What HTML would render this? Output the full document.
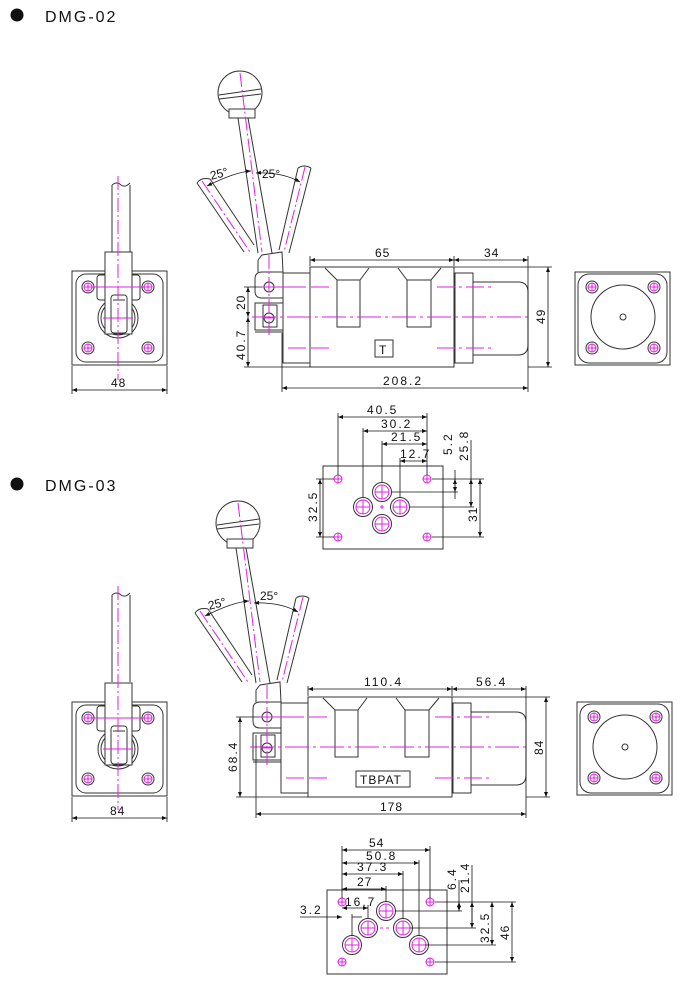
<!DOCTYPE html>
<html><head><meta charset="utf-8"><style>
html,body{margin:0;padding:0;background:#fff;}
svg{display:block;}
text{font-family:"Liberation Sans",sans-serif;fill:#111;}
</style></head><body>
<svg width="700" height="984" viewBox="0 0 700 984" xmlns="http://www.w3.org/2000/svg">
<defs>
<marker id="a" viewBox="0 0 10 10" refX="10" refY="5" markerWidth="7" markerHeight="5" orient="auto-start-reverse" markerUnits="userSpaceOnUse"><path d="M0,1 L10,5 L0,9 z" fill="#111"/></marker>
<g id="side" fill="none" stroke="#333" stroke-width="1">
  <!-- knob -->
  <circle cx="240" cy="93" r="22" fill="#fff"/>
  <line x1="219" y1="95" x2="261" y2="89"/><line x1="219" y1="99" x2="261" y2="94"/>
  <rect x="229" y="109" width="26" height="9" fill="#fff"/>
  <!-- shaft -->
  <line x1="238" y1="118" x2="258" y2="253"/><line x1="248" y1="118" x2="272" y2="253"/>
  <!-- left tilted -->
  <line x1="197" y1="183" x2="244" y2="252"/><line x1="210" y1="179" x2="254" y2="245"/>
  <path d="M197,183 q4,-6 13,-4"/>
  <!-- right tilted -->
  <line x1="298" y1="168" x2="279" y2="250"/><line x1="311" y1="168" x2="289" y2="253"/>
  <path d="M298,168 q6,-4 13,0"/>
  <!-- lever block -->
  <path d="M258,260 L262,255 L282,252 L283,272" fill="#fff"/>
  <line x1="258" y1="260" x2="258" y2="272"/>
  <path d="M262,272 L283,272 L283,298 L262,298 Q255,298 255,291 L255,279 Q255,272 262,272 z" fill="#fff"/>
  <rect x="255" y="303" width="28" height="27" fill="#fff"/>
  <line x1="255" y1="332" x2="283" y2="332"/>
  <rect x="263" y="305" width="14" height="22"/>
  <circle cx="269" cy="287" r="5"/><circle cx="269" cy="318" r="5"/>
  <!-- plates / body -->
  <rect x="283" y="273" width="27" height="90"/>
  <rect x="310" y="267" width="144" height="100"/>
  <path d="M325,268 L337,280 L360,280 L369,268"/>
  <rect x="337" y="280" width="23" height="47"/>
  <path d="M398,268 L407,280 L431,280 L441,268"/>
  <rect x="407" y="280" width="24" height="47"/>
  <rect x="455" y="273" width="18" height="90"/>
  <path d="M473,282 L518,282 Q528,282 528,292 L528,345 Q528,355 518,355 L473,355"/>
</g>
<g id="sidecl" fill="none" stroke="#e020e0" stroke-width="1">
  <line x1="240" y1="73" x2="262" y2="252" stroke-dasharray="14,3,2,3"/>
  <line x1="202" y1="181" x2="250" y2="252" stroke-dasharray="14,3,2,3"/>
  <line x1="305" y1="167" x2="284" y2="252" stroke-dasharray="14,3,2,3"/>
  <line x1="269" y1="255" x2="269" y2="335" stroke-dasharray="14,3,2,3"/>
  <line x1="262" y1="287" x2="290" y2="287"/>
  <line x1="288" y1="287" x2="330" y2="287" stroke-dasharray="18,5"/>
  <line x1="437" y1="287" x2="495" y2="287" stroke-dasharray="18,4,3,4"/>
  <line x1="252" y1="317" x2="532" y2="317" stroke-dasharray="24,4,3,4"/>
  <line x1="288" y1="348" x2="330" y2="348" stroke-dasharray="18,5"/>
  <line x1="437" y1="348" x2="495" y2="348" stroke-dasharray="18,4,3,4"/>
  <line x1="263" y1="287" x2="275" y2="287"/><line x1="263" y1="318" x2="275" y2="318"/>
</g>
<g id="arc" fill="none" stroke="#111" stroke-width="0.8">
  <path d="M207,186 Q235,172 251,171" marker-start="url(#a)" marker-end="url(#a)"/>
  <path d="M256,173 Q282,172 300,182" marker-start="url(#a)" marker-end="url(#a)"/>
</g>
<g id="bolt"><circle r="6" fill="#fff" stroke="#333"/><circle r="4" fill="none" stroke="#e020e0"/><path d="M-4,0H4M0,-4V4" stroke="#e020e0"/></g>
<g id="hole"><circle r="4" fill="none" stroke="#e020e0"/><path d="M-4,0H4M0,-4V4" stroke="#e020e0"/></g>
<g id="port"><circle r="9.5" fill="none" stroke="#333"/><circle r="7" fill="none" stroke="#e020e0"/><path d="M-7,0H7M0,-7V7" stroke="#e020e0"/></g>
<g id="rview">
  <rect x="575" y="272" width="95" height="93" fill="none" stroke="#333"/>
  <rect x="578" y="274" width="89" height="89" rx="11" fill="none" stroke="#333"/>
  <use href="#bolt" x="592" y="287"/><use href="#bolt" x="654" y="287"/>
  <use href="#bolt" x="592" y="348"/><use href="#bolt" x="654" y="348"/>
  <circle cx="623" cy="317" r="32" fill="none" stroke="#333"/>
  <circle cx="623" cy="317" r="3" fill="none" stroke="#333"/>
</g>
<g id="fplate">
  <rect x="72" y="271" width="95" height="94" fill="none" stroke="#333"/>
  <rect x="76" y="274" width="87" height="88" rx="10" fill="none" stroke="#333"/>
  <use href="#bolt" x="88" y="287"/><use href="#bolt" x="148" y="287"/>
  <use href="#bolt" x="88" y="348"/><use href="#bolt" x="148" y="348"/>
  <circle cx="118" cy="318" r="20" fill="none" stroke="#333"/>
  <circle cx="118" cy="318" r="17" fill="none" stroke="#333"/>
  <rect x="97" y="275" width="43" height="25" rx="3" fill="#fff" stroke="#333"/>
  <rect x="105" y="252" width="27" height="82" fill="#fff" stroke="#333"/>
  <rect x="111" y="295" width="16" height="38" rx="3" fill="#fff" stroke="#333"/>
  <line x1="113" y1="300" x2="125" y2="300" stroke="#333"/>
  <line x1="88" y1="287" x2="148" y2="287" stroke="#e020e0"/>
  <line x1="103" y1="318" x2="133" y2="318" stroke="#e020e0"/>
</g>
</defs>

<!-- headers -->
<circle cx="17" cy="15" r="6.5" fill="#111"/>
<text x="45" y="22" font-size="16" letter-spacing="2">DMG-02</text>
<circle cx="17" cy="484" r="6.5" fill="#111"/>
<text x="45" y="491" font-size="16" letter-spacing="2">DMG-03</text>

<!-- ===== DMG-02 ===== -->
<use href="#fplate"/>
<path d="M112,185 L112,252 M130,185 L130,252 M112,185 q5,-4 9,0 q4,3 9,-2" fill="none" stroke="#333"/>
<line x1="118" y1="176" x2="118" y2="380" stroke="#e020e0" stroke-dasharray="14,3,2,3"/>
<g stroke="#111" stroke-width="0.8" fill="none">
<line x1="72" y1="366" x2="72" y2="394"/><line x1="167" y1="366" x2="167" y2="394"/>
<line x1="72" y1="390" x2="167" y2="390" marker-start="url(#a)" marker-end="url(#a)"/>
</g>
<text x="111" y="387" font-size="12" letter-spacing="1">48</text>

<use href="#side"/><use href="#sidecl"/><use href="#arc"/>
<text x="210" y="178" font-size="12" transform="rotate(-14 218 174)">25°</text>
<text x="262" y="178" font-size="12">25°</text>
<rect x="375" y="340" width="18" height="17" fill="none" stroke="#333"/>
<text x="379" y="354" font-size="12">T</text>
<g stroke="#111" stroke-width="0.8" fill="none">
<line x1="310" y1="266" x2="310" y2="256"/><line x1="454" y1="266" x2="454" y2="256"/>
<line x1="528" y1="256" x2="528" y2="392"/>
<line x1="310" y1="260" x2="454" y2="260" marker-start="url(#a)" marker-end="url(#a)"/>
<line x1="454" y1="260" x2="528" y2="260" marker-start="url(#a)" marker-end="url(#a)"/>
<line x1="454" y1="267" x2="552" y2="267"/><line x1="528" y1="367" x2="552" y2="367"/>
<line x1="548" y1="267" x2="548" y2="367" marker-start="url(#a)" marker-end="url(#a)"/>
<line x1="244" y1="287" x2="262" y2="287"/>
<line x1="248" y1="287" x2="248" y2="317" marker-start="url(#a)" marker-end="url(#a)"/>
<line x1="248" y1="317" x2="248" y2="367" marker-start="url(#a)" marker-end="url(#a)"/>
<line x1="244" y1="367" x2="310" y2="367"/>
<line x1="282" y1="333" x2="282" y2="392"/>
<line x1="282" y1="388" x2="528" y2="388" marker-start="url(#a)" marker-end="url(#a)"/>
</g>
<text x="375" y="257" font-size="12" letter-spacing="1">65</text>
<text x="484" y="257" font-size="12" letter-spacing="1">34</text>
<text x="0" y="0" font-size="12" letter-spacing="1" transform="translate(545 324) rotate(-90)">49</text>
<text x="0" y="0" font-size="12" letter-spacing="1" transform="translate(245 310) rotate(-90)">20</text>
<text x="0" y="0" font-size="12" letter-spacing="2" transform="translate(245 360) rotate(-90)">40.7</text>
<text x="383" y="385" font-size="12" letter-spacing="2">208.2</text>

<use href="#rview"/>

<!-- port plate 1 -->
<rect x="323" y="466" width="120" height="83" fill="none" stroke="#333"/>
<use href="#hole" x="338" y="479"/><use href="#hole" x="427" y="479"/>
<use href="#hole" x="338" y="537"/><use href="#hole" x="427" y="537"/>
<use href="#port" x="382" y="492"/><use href="#port" x="363" y="507"/>
<use href="#port" x="400" y="507"/><use href="#port" x="382" y="524"/>
<path d="M380,507h4M382,505v4" stroke="#e020e0"/>
<g stroke="#111" stroke-width="0.8" fill="none">
<line x1="338" y1="413" x2="338" y2="475"/><line x1="427" y1="413" x2="427" y2="475"/>
<line x1="363" y1="428" x2="363" y2="497"/><line x1="382" y1="441" x2="382" y2="482"/>
<line x1="400" y1="458" x2="400" y2="497"/>
<line x1="338" y1="417" x2="427" y2="417" marker-start="url(#a)" marker-end="url(#a)"/>
<line x1="363" y1="431" x2="427" y2="431" marker-start="url(#a)" marker-end="url(#a)"/>
<line x1="382" y1="444" x2="427" y2="444" marker-start="url(#a)" marker-end="url(#a)"/>
<line x1="400" y1="461" x2="427" y2="461" marker-start="url(#a)" marker-end="url(#a)"/>
<line x1="432" y1="479" x2="484" y2="479"/><line x1="392" y1="492" x2="458" y2="492"/>
<line x1="410" y1="507" x2="474" y2="507"/><line x1="432" y1="537" x2="484" y2="537"/>
<line x1="455" y1="470" x2="455" y2="499"/>
<line x1="455" y1="479" x2="455" y2="492" marker-start="url(#a)" marker-end="url(#a)"/>
<line x1="471" y1="440" x2="471" y2="507" /><line x1="471" y1="479" x2="471" y2="507" marker-start="url(#a)" marker-end="url(#a)"/>
<line x1="480" y1="479" x2="480" y2="537" marker-start="url(#a)" marker-end="url(#a)"/>
<line x1="320" y1="479" x2="320" y2="537" marker-start="url(#a)" marker-end="url(#a)"/>
<line x1="316" y1="479" x2="334" y2="479"/><line x1="316" y1="537" x2="334" y2="537"/>
</g>
<text x="367" y="414" font-size="12" letter-spacing="2">40.5</text>
<text x="381" y="428" font-size="12" letter-spacing="2">30.2</text>
<text x="391" y="441" font-size="12" letter-spacing="2">21.5</text>
<text x="400" y="458" font-size="12" letter-spacing="2">12.7</text>
<text x="0" y="0" font-size="12" letter-spacing="2" transform="translate(452 455) rotate(-90)">5.2</text>
<text x="0" y="0" font-size="12" letter-spacing="2" transform="translate(468 461) rotate(-90)">25.8</text>
<text x="0" y="0" font-size="12" letter-spacing="1" transform="translate(477 522) rotate(-90)">31</text>
<text x="0" y="0" font-size="12" letter-spacing="2" transform="translate(317 522) rotate(-90)">32.5</text>

<!-- ===== DMG-03 ===== -->
<g transform="translate(0 431)"><use href="#fplate"/></g>
<path d="M112,595 L112,682 M130,595 L130,682 M112,595 q5,-4 9,0 q4,3 9,-2" fill="none" stroke="#333"/>
<line x1="118" y1="586" x2="118" y2="810" stroke="#e020e0" stroke-dasharray="14,3,2,3"/>
<g stroke="#111" stroke-width="0.8" fill="none">
<line x1="72" y1="797" x2="72" y2="822"/><line x1="167" y1="797" x2="167" y2="822"/>
<line x1="72" y1="818" x2="167" y2="818" marker-start="url(#a)" marker-end="url(#a)"/>
</g>
<text x="110" y="815" font-size="12" letter-spacing="1">84</text>

<g transform="translate(-2 430)"><use href="#side"/><use href="#sidecl"/><use href="#arc"/></g>
<text x="208" y="608" font-size="12" transform="rotate(-14 216 604)">25°</text>
<text x="260" y="600" font-size="12">25°</text>
<rect x="356" y="771" width="54" height="16" fill="none" stroke="#333"/>
<text x="360" y="784" font-size="12" letter-spacing="1">TBPAT</text>
<g stroke="#111" stroke-width="0.8" fill="none">
<line x1="308" y1="696" x2="308" y2="686"/><line x1="452" y1="696" x2="452" y2="686"/>
<line x1="526" y1="686" x2="526" y2="818"/>
<line x1="308" y1="689" x2="452" y2="689" marker-start="url(#a)" marker-end="url(#a)"/>
<line x1="452" y1="689" x2="526" y2="689" marker-start="url(#a)" marker-end="url(#a)"/>
<line x1="452" y1="697" x2="550" y2="697"/><line x1="526" y1="797" x2="550" y2="797"/>
<line x1="546" y1="697" x2="546" y2="797" marker-start="url(#a)" marker-end="url(#a)"/>
<line x1="236" y1="717" x2="260" y2="717"/>
<line x1="240" y1="717" x2="240" y2="797" marker-start="url(#a)" marker-end="url(#a)"/>
<line x1="236" y1="797" x2="308" y2="797"/>
<line x1="256" y1="735" x2="256" y2="818"/>
<line x1="256" y1="814" x2="526" y2="814" marker-start="url(#a)" marker-end="url(#a)"/>
</g>
<text x="364" y="686" font-size="12" letter-spacing="2">110.4</text>
<text x="476" y="686" font-size="12" letter-spacing="2">56.4</text>
<text x="0" y="0" font-size="12" letter-spacing="1" transform="translate(543 755) rotate(-90)">84</text>
<text x="0" y="0" font-size="12" letter-spacing="2" transform="translate(237 772) rotate(-90)">68.4</text>
<text x="380" y="811" font-size="12" letter-spacing="1">178</text>

<g transform="translate(2 430)"><use href="#rview"/></g>

<!-- port plate 2 -->
<rect x="327" y="890" width="120" height="84" fill="none" stroke="#333"/>
<use href="#hole" x="342" y="902"/><use href="#hole" x="430" y="902"/>
<use href="#hole" x="342" y="962"/><use href="#hole" x="430" y="962"/>
<use href="#port" x="386" y="911"/><use href="#port" x="368" y="928"/>
<use href="#port" x="403" y="928"/><use href="#port" x="352" y="945"/>
<use href="#port" x="419" y="945"/>
<line x1="380" y1="928" x2="392" y2="928" stroke="#e020e0" stroke-dasharray="3,3"/>
<g stroke="#111" stroke-width="0.8" fill="none">
<line x1="342" y1="846" x2="342" y2="898"/><line x1="430" y1="846" x2="430" y2="898"/>
<line x1="419" y1="860" x2="419" y2="936"/><line x1="403" y1="871" x2="403" y2="919"/>
<line x1="386" y1="886" x2="386" y2="902"/><line x1="368" y1="905" x2="368" y2="919"/>
<line x1="352" y1="914" x2="352" y2="936"/>
<line x1="342" y1="850" x2="430" y2="850" marker-start="url(#a)" marker-end="url(#a)"/>
<line x1="342" y1="863" x2="419" y2="863" marker-start="url(#a)" marker-end="url(#a)"/>
<line x1="342" y1="874" x2="403" y2="874" marker-start="url(#a)" marker-end="url(#a)"/>
<line x1="342" y1="889" x2="386" y2="889" marker-start="url(#a)" marker-end="url(#a)"/>
<line x1="342" y1="908" x2="368" y2="908" marker-start="url(#a)" marker-end="url(#a)"/>
<line x1="300" y1="917" x2="342" y2="917" marker-end="url(#a)"/>
<line x1="352" y1="917" x2="362" y2="917"/>
<line x1="352" y1="917" x2="352" y2="917" />
<line x1="435" y1="902" x2="516" y2="902"/><line x1="395" y1="911" x2="462" y2="911"/>
<line x1="410" y1="928" x2="476" y2="928"/><line x1="425" y1="945" x2="496" y2="945"/>
<line x1="435" y1="962" x2="516" y2="962"/>
<line x1="459" y1="880" x2="459" y2="911"/>
<line x1="459" y1="902" x2="459" y2="911" marker-start="url(#a)" marker-end="url(#a)"/>
<line x1="472" y1="865" x2="472" y2="928"/>
<line x1="472" y1="902" x2="472" y2="928" marker-start="url(#a)" marker-end="url(#a)"/>
<line x1="492" y1="902" x2="492" y2="945" marker-start="url(#a)" marker-end="url(#a)"/>
<line x1="512" y1="902" x2="512" y2="962" marker-start="url(#a)" marker-end="url(#a)"/>
</g>
<text x="369" y="847" font-size="12" letter-spacing="1">54</text>
<text x="366" y="860" font-size="12" letter-spacing="2">50.8</text>
<text x="357" y="871" font-size="12" letter-spacing="2">37.3</text>
<text x="357" y="886" font-size="12" letter-spacing="1">27</text>
<text x="345" y="906" font-size="12" letter-spacing="2">16.7</text>
<text x="300" y="914" font-size="12" letter-spacing="2">3.2</text>
<text x="0" y="0" font-size="12" letter-spacing="2" transform="translate(456 890) rotate(-90)">6.4</text>
<text x="0" y="0" font-size="12" letter-spacing="2" transform="translate(469 893) rotate(-90)">21.4</text>
<text x="0" y="0" font-size="12" letter-spacing="2" transform="translate(489 943) rotate(-90)">32.5</text>
<text x="0" y="0" font-size="12" letter-spacing="1" transform="translate(509 940) rotate(-90)">46</text>
</svg>
</body></html>
